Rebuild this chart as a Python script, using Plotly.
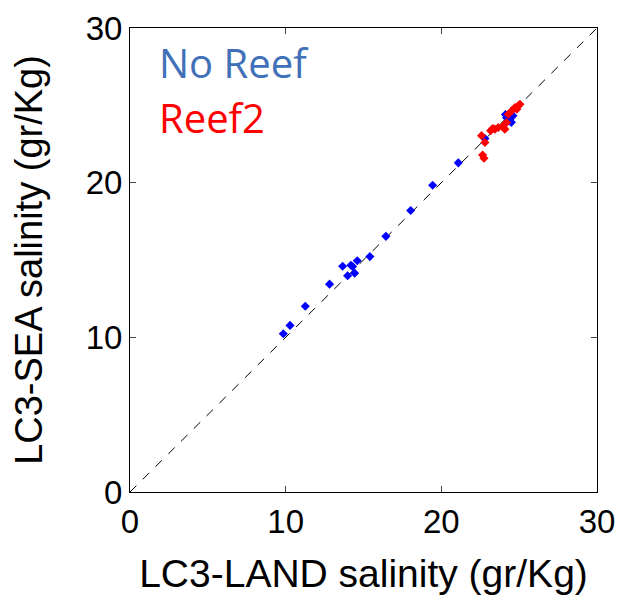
import plotly.graph_objects as go

# No Reef (blue) data
noreef_land = [9.85, 10.28, 11.26, 12.82, 13.66, 14.19, 14.30, 14.60, 13.98, 14.43, 15.41, 16.44,
               18.03, 19.44, 21.09, 22.80, 24.19, 24.40, 24.50, 24.60, 24.12, 24.30]
noreef_sea = [10.23, 10.77, 12.01, 13.44, 14.60, 14.66, 14.58, 14.95, 13.98, 14.15, 15.22, 16.53,
              18.20, 19.83, 21.28, 22.85, 24.20, 24.10, 23.90, 24.32, 24.40, 24.00]

# Reef2 (red) data
reef_land = [22.65, 22.74, 22.58, 22.80, 23.17, 23.44, 23.66, 23.98, 24.08, 24.19,
             24.30, 24.51, 24.73, 24.94, 25.05, 24.85, 23.30]
reef_sea = [21.79, 21.58, 23.04, 22.60, 23.36, 23.46, 23.57, 23.68, 23.46, 23.89,
            24.42, 24.64, 24.86, 24.97, 25.07, 24.75, 23.50]

diag = [0, 30]
ticks = [0, 10, 20, 30]

fig = go.Figure()
fig.add_trace(go.Scatter(x=diag, y=diag, mode="lines",
                         line=dict(color="black", width=1, dash="dash"),
                         showlegend=False, hoverinfo="skip"))
fig.add_trace(go.Scatter(x=noreef_land, y=noreef_sea, mode="markers",
                         marker=dict(symbol="diamond", size=7, color="#0000FF"),
                         showlegend=False))
fig.add_trace(go.Scatter(x=reef_land, y=reef_sea, mode="markers",
                         marker=dict(symbol="diamond", size=7, color="#FF0000"),
                         showlegend=False))

axis_common = dict(range=[0, 30], tickvals=ticks, ticks="inside", ticklen=6,
                   showline=True, linecolor="black", linewidth=1, mirror="ticks",
                   showgrid=False, zeroline=False, automargin=False,
                   ticklabeloverflow="allow",
                   tickfont=dict(family="Liberation Sans, Arial", size=33, color="black"))

fig.update_xaxes(title=dict(text="LC3-LAND salinity (gr/Kg)", standoff=32,
                            font=dict(family="Liberation Sans, Arial", size=39, color="black")),
                 **axis_common)
fig.update_yaxes(title=dict(text="LC3-SEA salinity (gr/Kg)", standoff=31,
                            font=dict(family="Liberation Sans, Arial", size=38, color="black")),
                 **axis_common)

fig.add_annotation(x=0.057, y=0.926, xref="paper", yref="paper", text="No Reef",
                   showarrow=False, xanchor="left", yanchor="middle",
                   font=dict(family="Open Sans, Lato", size=40, color="#4070B8"))
fig.add_annotation(x=0.057, y=0.808, xref="paper", yref="paper", text="Reef2",
                   showarrow=False, xanchor="left", yanchor="middle",
                   font=dict(family="Open Sans, Lato", size=40, color="#FF0000"))

fig.update_layout(width=621, height=587, plot_bgcolor="white", paper_bgcolor="white",
                  margin=dict(l=122, r=32, t=20, b=103))

fig.write_html("out.html")
